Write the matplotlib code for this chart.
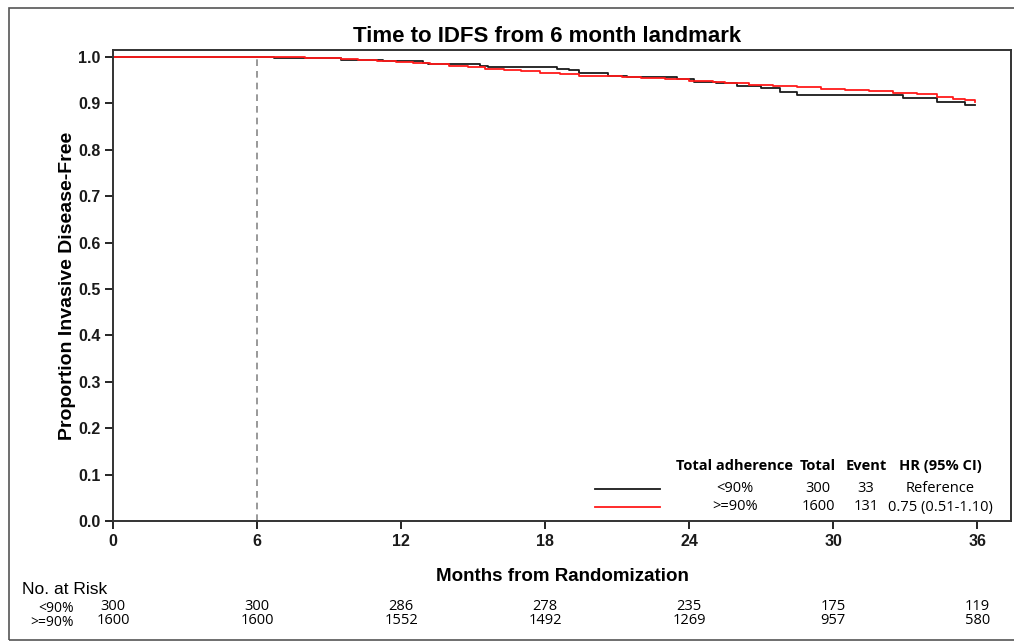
import matplotlib
matplotlib.use("Agg")
import matplotlib.pyplot as plt
from matplotlib.patches import Rectangle

# Kaplan-Meier steps (months, proportion free)
low_times = [0, 6.7, 9.5, 11.25, 12.9, 13.1, 15.3, 15.6, 18.5, 19.0, 19.4, 20.6, 21.4,
             23.5, 24.2, 25.1, 26.0, 27.0, 27.8, 28.5, 32.9, 34.3, 35.5, 35.9]
low_surv = [1.0, 0.998, 0.9935, 0.991, 0.988, 0.985, 0.981, 0.978, 0.975, 0.972, 0.965, 0.960, 0.956,
            0.952, 0.947, 0.943, 0.9375, 0.9325, 0.924, 0.9175, 0.911, 0.903, 0.8966, 0.8966]

high_times = [0, 7.4, 8.0, 8.6, 9.5, 10.2, 11.0, 11.8, 12.5, 13.2, 14.0, 14.8, 15.5, 16.3,
              17.0, 17.8, 18.6, 19.4, 20.3, 21.2, 22.0, 23.0, 24.0, 25.0, 25.5, 26.5, 27.5,
              28.5, 29.5, 30.5, 31.5, 32.5, 33.5, 34.3, 35.0, 35.5, 35.9]
high_surv = [1.0, 0.999, 0.998, 0.997, 0.9955, 0.994, 0.992, 0.990, 0.987, 0.984, 0.981, 0.978,
             0.975, 0.972, 0.969, 0.966, 0.963, 0.960, 0.958, 0.956, 0.954, 0.952, 0.949, 0.945,
             0.943, 0.940, 0.938, 0.935, 0.932, 0.929, 0.926, 0.923, 0.921, 0.914, 0.910, 0.907,
             0.904]

groups = ["<90%", ">=90%"]
totals = [300, 1600]
events = [33, 131]
hrs = ["Reference", "0.75 (0.51-1.10)"]
colors = ["#1a1a1a", "#ff1a1a"]

risk_months = [0, 6, 12, 18, 24, 30, 36]
risk_low = [300, 300, 286, 278, 235, 175, 119]
risk_high = [1600, 1600, 1552, 1492, 1269, 957, 580]

fnt = "Liberation Sans"
tfnt = "Open Sans"

fig = plt.figure(figsize=(10.14, 6.42), dpi=100)
fig.patches.append(Rectangle((9 / 1014, 2 / 642), 1.1, (632) / 642, transform=fig.transFigure,
                             fill=False, edgecolor="#555555", linewidth=1.2))
ax = fig.add_axes([113 / 1014, 1 - 521 / 642, (1011 - 113) / 1014, (521 - 50) / 642])

ax.step(low_times, low_surv, where="post", color=colors[0], lw=1.3)
ax.step(high_times, high_surv, where="post", color=colors[1], lw=1.3)
ax.vlines(6, 0, 1.0, colors="#888888", linestyles=(0, (4, 3)), lw=1.2)

ax.set_xlim(0, 37.4)
ax.set_ylim(0, 1.015)
ax.set_xticks(risk_months)
ax.set_yticks([i / 10 for i in range(11)])
ax.set_yticklabels([f"{i / 10:.1f}" for i in range(11)])
ax.tick_params(direction="out", length=6, width=1.2, labelsize=11.5, pad=3)
for lab in ax.get_xticklabels() + ax.get_yticklabels():
    lab.set_fontfamily(fnt)
    lab.set_fontweight("bold")
    lab.set_color("#1a1a1a")
for sp in ax.spines.values():
    sp.set_linewidth(1.4)
    sp.set_color("#333333")

def px(x, y):
    return x / 1014, 1 - y / 642

fig.text(*px(547, 36), "Time to IDFS from 6 month landmark", ha="center", va="center",
         fontsize=16, fontweight="bold", family=fnt)
ax.set_xlabel("Months from Randomization", fontsize=13.5, fontweight="bold", family=fnt, labelpad=14)
fig.text(*px(68, 286), "Proportion Invasive Disease-Free", rotation=90, ha="center", va="center",
         fontsize=14, fontweight="bold", family=fnt)

# legend table in lower right
cols = [735, 818, 866, 940]
heads = ["Total adherence", "Total", "Event", "HR (95% CI)"]
for c, h in zip(cols, heads):
    fig.text(*px(c, 466), h, ha="center", va="center", fontsize=10.5, fontweight="bold", family=tfnt)
rows_y = [489, 507]
for i, y in enumerate(rows_y):
    x0, y0 = px(595, y)
    x1, _ = px(660, y)
    fig.add_artist(plt.Line2D([x0, x1], [y0, y0], color=colors[i], lw=1.3, transform=fig.transFigure))
    vals = [groups[i], str(totals[i]), str(events[i]), hrs[i]]
    for c, v in zip(cols, vals):
        fig.text(*px(c, y), v, ha="center", va="center", fontsize=10.5, family=tfnt)

# number at risk
fig.text(*px(22, 594), "No. at Risk", ha="left", va="baseline", fontsize=12.5, family=fnt)
fig.text(*px(74, 608), groups[0], ha="right", va="center", fontsize=10, family=tfnt)
fig.text(*px(74, 622), groups[1], ha="right", va="center", fontsize=10, family=tfnt)
for m, a, b in zip(risk_months, risk_low, risk_high):
    xf = ax.transData.transform((m, 0))[0] / fig.bbox.width
    fig.text(xf, 1 - 607 / 642, str(a), ha="center", va="center", fontsize=10.5, family=tfnt)
    fig.text(xf, 1 - 621 / 642, str(b), ha="center", va="center", fontsize=10.5, family=tfnt)

fig.savefig("out.png", dpi=100)
